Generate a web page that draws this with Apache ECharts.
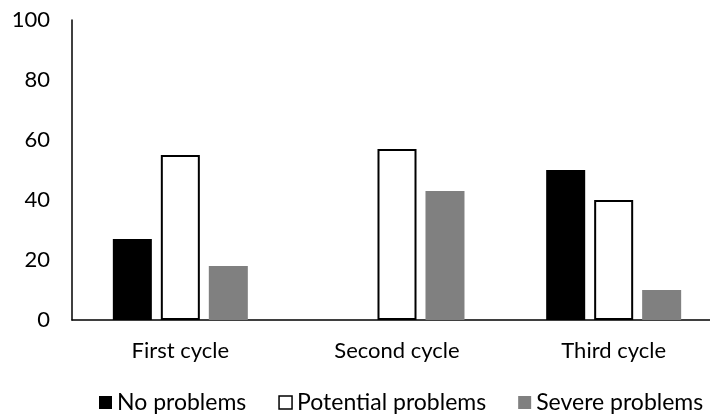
<!DOCTYPE html>
<html>
<head>
<meta charset="utf-8">
<script src="https://cdn.jsdelivr.net/npm/echarts@6/dist/echarts.min.js"></script>
<style>
html,body{margin:0;padding:0;background:#fff;}
#chart{width:710px;height:416px;}
</style>
</head>
<body>
<div id="chart"></div>
<script>
var categories = ['First cycle', 'Second cycle', 'Third cycle'];
var noProblems = [27, 0, 50];
var potentialProblems = [55, 57, 40];
var severeProblems = [18, 43, 10];
var yTicks = [0, 20, 40, 60, 80, 100];

var FONT = 'Lato';
var chart = echarts.init(document.getElementById('chart'), null, {renderer: 'canvas'});
chart.setOption({
  animation: false,
  backgroundColor: '#fff',
  grid: {left: 72, top: 20, width: 650, height: 300, containLabel: false, outerBoundsMode: 'none'},
  legend: {
    left: 99, top: 391, padding: 0,
    itemWidth: 13, itemHeight: 13, itemGap: 32,
    textStyle: {fontFamily: FONT, fontSize: 23, color: '#000'},
    data: [
      {name: 'No problems', icon: 'rect', itemStyle: {color: '#000', borderWidth: 0}},
      {name: 'Potential problems', icon: 'rect', itemStyle: {color: '#fff', borderColor: '#000', borderWidth: 1.5}},
      {name: 'Severe problems', icon: 'rect', itemStyle: {color: '#808080', borderWidth: 0}}
    ]
  },
  xAxis: {
    type: 'category', data: categories,
    axisLine: {lineStyle: {color: '#000', width: 1.5}},
    axisTick: {show: false},
    axisLabel: {fontFamily: FONT, fontSize: 22, color: '#000', margin: 20}
  },
  yAxis: {
    type: 'value', min: yTicks[0], max: yTicks[yTicks.length - 1], interval: 20,
    axisLine: {show: true, lineStyle: {color: '#000', width: 1.5}},
    axisTick: {show: false},
    splitLine: {show: false},
    axisLabel: {fontFamily: FONT, fontSize: 22, color: '#000', margin: 22}
  },
  series: [
    {name: 'No problems', type: 'bar', data: noProblems, barGap: '23%', barCategoryGap: '37.7%',
     itemStyle: {color: '#000'}},
    {name: 'Potential problems', type: 'bar', data: potentialProblems,
     itemStyle: {color: '#fff', borderColor: '#000', borderWidth: 2}},
    {name: 'Severe problems', type: 'bar', data: severeProblems,
     itemStyle: {color: '#808080'}}
  ]
});
</script>
</body>
</html>
